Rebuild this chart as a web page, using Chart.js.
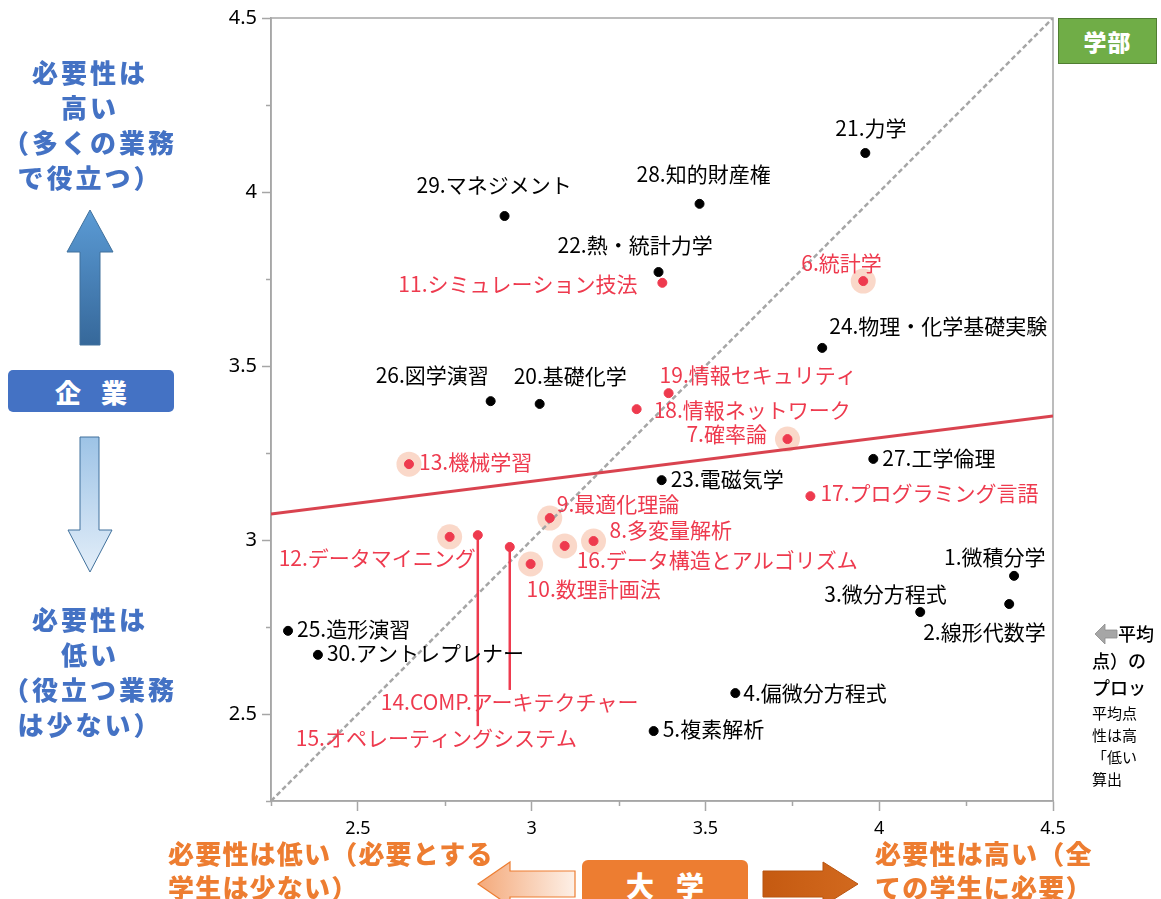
<!DOCTYPE html>
<html lang="ja">
<head>
<meta charset="utf-8">
<script src="https://cdn.jsdelivr.net/npm/chart.js@4.4.1/dist/chart.umd.min.js"></script>
<style>
  html,body{margin:0;padding:0;background:#fff;overflow:hidden;}
  #wrap{position:relative;width:1161px;height:899px;overflow:hidden;font-family:"Noto Sans CJK JP","Noto Sans",sans-serif;}
  #c{position:absolute;left:0;top:0;}
  .ov{position:absolute;white-space:nowrap;}
  .blue{color:#4472C4;font-weight:900;font-size:26px;line-height:35px;text-align:center;letter-spacing:3px;}
  .orange{color:#ED7D31;font-weight:900;font-size:26px;line-height:34px;letter-spacing:1.2px;}
  .box{position:absolute;color:#fff;font-weight:900;display:flex;align-items:center;justify-content:center;}
</style>
</head>
<body>
<div id="wrap">
  <canvas id="c" width="1161" height="899"></canvas>

  <div class="ov blue" style="left:0;top:54px;width:180px;">必要性は<br>高い<br>（多くの業務<br>で役立つ）</div>
  <div class="ov blue" style="left:0;top:601px;width:180px;">必要性は<br>低い<br>（役立つ業務<br>は少ない）</div>
  <div class="box" style="left:8px;top:370px;width:166px;height:42px;background:#4472C4;border-radius:5px;font-size:26px;letter-spacing:20px;padding-left:20px;box-sizing:border-box;">企業</div>

  <svg class="ov" style="left:0;top:0;" width="1161" height="899">
    <defs>
      <linearGradient id="gUp" x1="0" y1="0" x2="0" y2="1">
        <stop offset="0" stop-color="#5B9BD5"/><stop offset="1" stop-color="#36689A"/>
      </linearGradient>
      <linearGradient id="gDown" x1="0" y1="0" x2="0" y2="1">
        <stop offset="0" stop-color="#9DC3E6"/><stop offset="1" stop-color="#E3EEF9"/>
      </linearGradient>
      <linearGradient id="gLeft" x1="0" y1="0" x2="1" y2="0">
        <stop offset="0" stop-color="#F4A97A"/><stop offset="1" stop-color="#FDF0E7"/>
      </linearGradient>
      <linearGradient id="gRight" x1="0" y1="0" x2="1" y2="0">
        <stop offset="0" stop-color="#C55A11"/><stop offset="1" stop-color="#D2691E"/>
      </linearGradient>
    </defs>
    <polygon points="90,210 113,252 100,252 100,345 80,345 80,252 67,252" fill="url(#gUp)" stroke="#41719C" stroke-width="1"/>
    <polygon points="80,437 99,437 99,530 112,530 90,572 68,530 80,530" fill="url(#gDown)" stroke="#41719C" stroke-width="1"/>
    <polygon points="478,884 510,862 510,871 575,871 575,897 510,897 510,906" fill="url(#gLeft)" stroke="#ED7D31" stroke-width="1.2"/>
    <polygon points="858,884 823,862 823,871 763,871 763,897 823,897 823,906" fill="url(#gRight)" stroke="#B85410" stroke-width="1"/>
    <polygon points="1095,634 1105,624 1105,630 1117,630 1117,638 1105,638 1105,644" fill="#A6A6A6" stroke="#8C8C8C" stroke-width="0.8"/>
  </svg>

  <div class="ov orange" style="left:168px;top:836px;">必要性は低い（必要とする<br>学生は少ない）</div>
  <div class="ov orange" style="left:875px;top:836px;">必要性は高い（全<br>ての学生に必要）</div>
  <div class="box" style="left:582px;top:860px;width:166px;height:50px;background:#ED7D31;border-radius:6px;font-size:28px;letter-spacing:22px;padding-left:22px;box-sizing:border-box;">大学</div>

  <div class="box" style="left:1058px;top:18px;width:99px;height:46px;background:#70AD47;border:1.5px solid #507E32;box-sizing:border-box;font-size:23px;letter-spacing:1px;">学部</div>

  <div class="ov" style="left:1092px;top:620px;font-size:18px;line-height:27px;color:#000;font-weight:500;">
    <span style="padding-left:26px;">平均</span><br>点）の<br>プロッ
  </div>
  <div class="ov" style="left:1092px;top:702px;font-size:15px;line-height:22px;color:#000;">平均点<br>性は高<br>「低い<br>算出</div>
</div>

<script>
// ---- data ----
const subjects = [
  "1.微積分学","2.線形代数学","3.微分方程式","4.偏微分方程式","5.複素解析",
  "6.統計学","7.確率論","8.多変量解析","9.最適化理論","10.数理計画法",
  "11.シミュレーション技法","12.データマイニング","13.機械学習","14.COMP.アーキテクチャー","15.オペレーティングシステム",
  "16.データ構造とアルゴリズム","17.プログラミング言語","18.情報ネットワーク","19.情報セキュリティ","20.基礎化学",
  "21.力学","22.熱・統計力学","23.電磁気学","24.物理・化学基礎実験","25.造形演習",
  "26.図学演習","27.工学倫理","28.知的財産権","29.マネジメント","30.アントレプレナー"
];
// 大学 (x axis)
const univScore = [
  4.388, 4.374, 4.118, 3.586, 3.351,
  3.954, 3.736, 3.178, 3.052, 2.997,
  3.376, 2.764, 2.647, 2.937, 2.845,
  3.095, 3.802, 3.302, 3.394, 3.023,
  3.960, 3.365, 3.374, 3.836, 2.299,
  2.882, 3.983, 3.483, 2.922, 2.385
];
// 企業 (y axis)
const corpScore = [
  2.897, 2.816, 2.793, 2.560, 2.451,
  3.744, 3.290, 2.997, 3.063, 2.931,
  3.739, 3.009, 3.218, 2.980, 3.014,
  2.983, 3.126, 3.376, 3.422, 3.391,
  4.112, 3.770, 3.172, 3.552, 2.739,
  3.399, 3.233, 3.966, 3.931, 2.670
];
// data-science related subjects (red) and emphasised ones (halo)
const redSubjects = [6,7,8,9,10,11,12,13,14,15,16,17,18,19];
const haloSubjects = [6,7,8,9,10,12,13,16];
// reference lines
const diagonalLine = [[2.25,2.25],[4.5,4.5]];
const trendLine = [[2.25,3.075],[4.5,3.356]];
const axisMin = 2.25, axisMax = 4.5;
const tickStep = 0.25;

// ---- label placement (layout only) : [dx, dy, leaderEndDy] ----
const labelPlace = [
  [-70,-19],[-86,28],[-96,-18],[8,0],[9,-2],
  [-62,-18],[-101,-5],[16,-11],[7,-14],[-4,25],
  [-264,1],[-171,21],[10,-2],[-129,155,143],[-182,203,191],
  [12,14],[10,-3],[17,1],[-9,-18],[-26,-28],
  [-30,-25],[-101,-27],[9,-1],[7,-22],[9,-2],
  [-115,-26],[9,-1],[-63,-30],[-88,-31],[9,-2]
];

const RED = '#EE3A4E', BLACK = '#000000', GRAY = '#A6A6A6';
const pts = i => ({x: univScore[i], y: corpScore[i]});
const idx = subjects.map((_, i) => i);
const isRed = i => redSubjects.includes(i + 1);

const blackData = idx.filter(i => !isRed(i)).map(pts);
const redData = idx.filter(isRed).map(pts);
const haloData = haloSubjects.map(n => pts(n - 1));

const isMajor = v => Math.abs(v * 2 - Math.round(v * 2)) < 1e-6 && v > axisMin + 1e-6;
const fmt = v => (Math.round(v * 100) / 100).toString();

const frameAndLabels = {
  id: 'frameAndLabels',
  beforeDatasetsDraw(chart) {
    const {ctx, chartArea: a, scales: {x, y}} = chart;
    ctx.save();
    ctx.strokeStyle = GRAY; ctx.lineWidth = 1.5;
    ctx.strokeRect(a.left, a.top, a.right - a.left, a.bottom - a.top);
    // minor ticks
    ctx.beginPath();
    for (let v = axisMin; v <= axisMax + 1e-6; v += tickStep) {
      if (isMajor(v)) continue;
      const px = Math.round(x.getPixelForValue(v)) + 0.5;
      ctx.moveTo(px, a.bottom); ctx.lineTo(px, a.bottom + 5);
      const py = Math.round(y.getPixelForValue(v)) + 0.5;
      ctx.moveTo(a.left, py); ctx.lineTo(a.left - 5, py);
    }
    ctx.stroke();
    ctx.restore();
  },
  afterDatasetsDraw(chart) {
    const {ctx, scales: {x, y}} = chart;
    ctx.save();
    ctx.font = '21px "Noto Sans CJK JP", "Noto Sans", sans-serif';
    ctx.textBaseline = 'middle';
    ctx.textAlign = 'left';
    subjects.forEach((name, i) => {
      const px = x.getPixelForValue(univScore[i]);
      const py = y.getPixelForValue(corpScore[i]);
      const [dx, dy, lead] = labelPlace[i];
      const col = isRed(i) ? RED : BLACK;
      if (lead) {
        ctx.strokeStyle = RED; ctx.lineWidth = 2.5;
        ctx.beginPath(); ctx.moveTo(px, py); ctx.lineTo(px, py + lead); ctx.stroke();
      }
      ctx.fillStyle = col;
      ctx.fillText(name, px + dx, py + dy);
    });
    ctx.restore();
  }
};

new Chart(document.getElementById('c'), {
  type: 'scatter',
  data: {
    datasets: [
      {label: 'black', data: blackData, backgroundColor: BLACK, borderColor: BLACK, pointRadius: 4.5, order: 1},
      {label: 'red', data: redData, backgroundColor: RED, borderColor: RED, pointRadius: 4.5, order: 1},
      {label: 'halo', data: haloData, backgroundColor: 'rgba(247,190,165,0.6)', borderWidth: 0, pointRadius: 12.5, order: 5},
      {label: 'trend', type: 'line', data: trendLine.map(([a, b]) => ({x: a, y: b})), borderColor: '#D9434F', borderWidth: 3, pointRadius: 0, order: 3},
      {label: 'diag', type: 'line', data: diagonalLine.map(([a, b]) => ({x: a, y: b})), borderColor: GRAY, borderWidth: 2.5, borderDash: [5, 3], pointRadius: 0, order: 4}
    ]
  },
  options: {
    responsive: false,
    animation: false,
    events: [],
    layout: {padding: {left: 0, top: 18, right: 108, bottom: 0}},
    plugins: {legend: {display: false}, tooltip: {enabled: false}},
    scales: {
      x: {
        type: 'linear', min: axisMin, max: axisMax,
        afterFit: s => { s.height = 98; },
        border: {color: GRAY, width: 1.5},
        grid: {drawOnChartArea: false, drawTicks: true, tickLength: 10,
               tickColor: c => isMajor(c.tick.value) ? GRAY : 'rgba(0,0,0,0)', tickWidth: 1.5},
        ticks: {stepSize: tickStep, padding: 7, color: '#000', maxRotation: 0, autoSkip: false,
                font: {size: 18, family: '"Noto Sans", "DejaVu Sans", sans-serif'},
                callback: v => isMajor(v) ? fmt(v) : ''}
      },
      y: {
        type: 'linear', min: axisMin, max: axisMax,
        afterFit: s => { s.width = 271; },
        border: {color: GRAY, width: 1.5},
        grid: {drawOnChartArea: false, drawTicks: true, tickLength: 9,
               tickColor: c => isMajor(c.tick.value) ? GRAY : 'rgba(0,0,0,0)', tickWidth: 1.5},
        ticks: {stepSize: tickStep, padding: 5, color: '#000', autoSkip: false,
                font: {size: 20, family: '"Noto Sans", "DejaVu Sans", sans-serif'},
                callback: v => isMajor(v) ? fmt(v) : ''}
      }
    }
  },
  plugins: [frameAndLabels]
});
</script>
</body>
</html>
